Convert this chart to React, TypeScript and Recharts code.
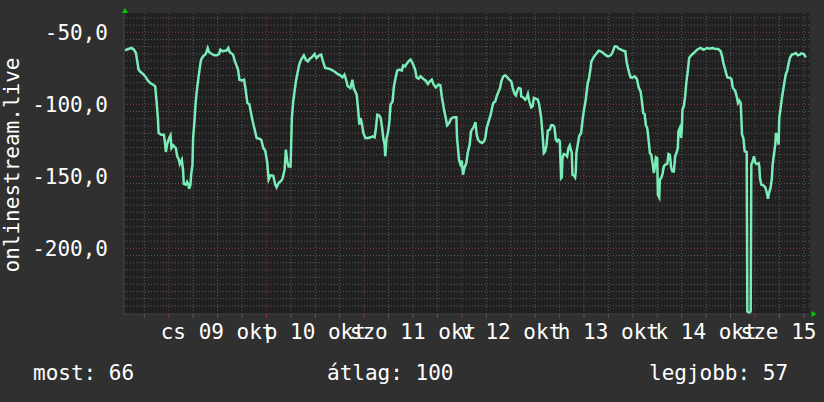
import React from 'react';
import { LineChart, Line, XAxis, YAxis, ReferenceLine, ReferenceArea, ReferenceDot } from 'recharts';

// [hours since start of window, value]
const readings: [number, number][] = [
  [0.24,-62.5],[1.06,-61.6],[1.88,-60.9],[2.45,-62.1],[2.94,-64.4],[3.26,-70.2],[3.59,-75.9],[4.08,-77.6],[4.73,-79.0],[5.39,-81.3],[5.88,-83.6],[6.53,-85.4],[7.18,-86.4],[7.67,-87.5],[8.00,-97.9],[8.33,-109.5],[8.49,-119.9],[9.14,-121.1],[9.80,-121.1],[10.12,-128.0],[10.29,-133.1],[10.61,-127.6],[11.10,-123.4],[11.43,-121.6],[11.67,-130.4],[12.08,-128.5],[12.73,-130.4],[13.06,-136.1],[13.39,-137.8],[13.71,-141.5],[14.20,-138.5],[14.53,-146.6],[14.69,-155.3],[15.18,-155.8],[15.51,-153.9],[15.84,-155.8],[16.00,-158.6],[16.33,-155.8],[16.49,-148.9],[16.82,-141.9],[16.98,-123.4],[17.31,-111.8],[17.63,-97.9],[17.96,-88.7],[18.29,-81.7],[18.61,-74.8],[18.94,-69.0],[19.43,-66.7],[20.08,-65.1],[20.57,-60.9],[20.90,-63.7],[21.55,-65.1],[22.20,-66.0],[22.86,-66.0],[23.35,-65.1],[23.67,-62.1],[24.16,-63.2],[24.65,-62.8],[25.14,-62.8],[25.63,-60.9],[25.96,-63.7],[26.78,-65.5],[27.26,-70.2],
  [28.02,-75.9],[28.34,-82.9],[29.00,-83.4],[29.49,-82.9],[29.82,-88.7],[30.31,-99.1],[30.80,-99.8],[31.12,-104.9],[31.61,-111.8],[32.10,-117.6],[32.59,-123.4],[33.24,-123.9],[33.73,-124.6],[34.22,-130.4],[34.71,-132.2],[35.20,-140.8],[35.53,-152.3],[36.02,-149.3],[36.67,-149.6],[37.16,-155.8],[37.49,-157.7],[37.98,-154.7],[38.63,-153.0],[38.96,-151.6],[39.45,-145.4],[39.77,-131.5],[40.10,-139.6],[40.43,-143.1],[40.92,-143.1],[41.24,-109.5],[41.57,-97.9],[41.90,-91.0],[42.22,-84.1],[42.71,-77.1],[43.04,-72.5],[43.53,-69.0],[44.18,-66.0],[44.67,-69.0],[45.16,-70.2],[45.65,-68.3],[46.14,-67.4],[46.80,-65.1],[47.29,-67.9],[47.94,-66.0],[48.43,-65.5],[48.92,-70.6],[49.41,-74.8],[50.39,-75.3],[51.20,-76.4],[51.86,-77.6],[52.51,-79.0],[53.16,-79.9],[53.65,-81.3],[54.14,-79.4],[54.47,-82.2],[54.96,-87.5],[55.61,-88.7],[56.10,-82.9],[56.43,-88.7],
  [57.16,-93.3],[57.49,-102.6],[57.82,-114.1],[58.14,-109.5],[58.47,-114.1],[58.80,-119.9],[59.29,-123.4],[59.94,-123.4],[60.59,-122.9],[61.08,-122.2],[61.57,-122.9],[61.90,-116.5],[62.22,-107.2],[62.71,-107.7],[63.04,-109.5],[63.37,-115.3],[63.69,-123.4],[64.02,-128.0],[64.18,-136.1],[64.51,-123.4],[64.84,-119.9],[65.16,-113.0],[65.49,-100.3],[65.98,-97.9],[66.31,-87.5],[66.80,-80.6],[67.12,-76.6],[67.61,-75.9],[68.26,-76.6],[68.59,-72.9],[69.08,-73.6],[69.41,-72.0],[70.06,-69.7],[70.39,-69.0],[70.88,-71.3],[71.20,-73.6],[71.53,-75.9],[71.86,-81.3],[72.35,-82.2],[72.84,-80.6],[73.49,-82.2],[74.14,-83.6],[74.63,-85.9],[75.12,-84.1],[75.61,-82.9],[76.10,-86.4],[76.59,-88.2],[77.24,-86.4],[77.73,-86.8],[78.06,-94.5],[78.55,-102.6],[79.04,-109.5],[79.37,-114.6],[79.86,-113.0],[80.35,-110.0],[81.00,-109.0],[81.65,-109.0],[81.82,-123.4],[82.31,-138.5],[82.63,-141.5],[82.96,-139.1],[83.29,-148.9],[83.61,-144.2],[84.10,-140.8],[84.43,-133.8],[84.92,-128.0],[85.24,-118.8],
  [86.00,-115.3],[86.33,-112.3],[86.65,-121.1],[86.98,-124.6],[87.47,-126.2],[87.96,-126.9],[88.45,-125.7],[88.78,-122.9],[89.10,-116.5],[89.59,-111.8],[90.08,-107.2],[90.41,-102.6],[90.73,-99.1],[91.22,-97.9],[91.55,-94.5],[92.04,-91.0],[92.37,-88.7],[92.69,-84.1],[93.18,-80.6],[93.67,-79.9],[94.16,-81.3],[94.65,-82.9],[95.14,-84.1],[95.47,-88.2],[95.96,-92.9],[96.29,-93.8],[96.61,-90.5],[96.94,-88.7],[97.43,-89.1],[97.59,-94.5],[98.08,-95.2],[98.57,-96.8],[98.90,-95.6],[99.22,-92.9],[99.55,-97.9],[100.04,-102.1],[100.37,-101.4],[100.69,-95.6],[101.18,-96.1],[101.67,-96.8],[102.00,-100.3],[102.49,-109.5],[102.82,-121.1],[103.14,-133.8],[103.47,-132.7],[103.80,-128.0],[104.12,-118.3],[104.61,-117.6],[104.94,-114.6],[105.43,-114.6],[105.75,-116.0],[106.08,-124.6],[106.41,-125.7],[106.73,-124.6],[107.06,-125.7],[107.22,-138.5],[107.39,-151.2],[107.55,-150.7],[107.71,-137.3],[108.04,-134.5],[108.53,-135.0],[108.86,-136.1],[109.18,-130.4],[109.51,-128.5],[109.67,-130.4],[110.00,-133.8],[110.16,-148.9],[110.49,-149.3],[110.82,-150.7],[110.98,-146.6],[111.14,-133.8],[111.47,-128.0],[111.80,-122.2],[112.29,-119.9],[112.61,-111.8],[112.94,-104.9],[113.43,-96.8],[113.92,-85.2],
  [114.17,-82.9],[114.50,-77.1],[114.83,-70.2],[115.48,-66.7],[115.97,-65.1],[116.62,-62.8],[117.11,-63.2],[117.76,-64.4],[118.42,-66.0],[118.91,-66.7],[119.56,-66.0],[120.05,-63.7],[120.54,-59.8],[121.03,-59.8],[121.52,-61.4],[122.01,-61.8],[122.66,-62.8],[123.15,-63.2],[123.48,-70.6],[123.81,-74.8],[124.13,-78.3],[124.46,-81.3],[124.95,-81.3],[125.44,-80.6],[125.93,-82.2],[126.09,-83.6],[126.42,-88.2],[126.91,-91.0],[127.23,-97.9],[127.56,-106.0],[127.89,-106.7],[128.21,-114.6],[128.54,-116.5],[128.87,-124.6],[129.19,-133.8],[129.52,-135.0],[129.85,-140.8],[130.17,-147.7],[130.50,-141.9],[130.66,-136.8],[130.99,-137.3],[131.15,-162.8],[131.48,-164.6],[131.64,-152.3],[131.97,-151.2],[132.30,-148.4],[132.62,-143.1],[132.95,-141.9],[133.44,-141.5],[133.76,-134.5],[134.09,-135.0],[134.42,-144.2],[134.74,-146.6],[135.07,-146.6],[135.40,-136.1],[135.72,-133.8],[136.05,-130.4],[136.21,-118.8],[136.54,-116.5],[136.87,-123.4],[137.03,-117.6],[137.19,-103.7],[137.52,-101.4],[137.85,-94.5],[138.17,-84.1],[138.50,-77.1],[138.83,-67.8],[139.32,-66.0],[139.97,-64.4],[140.79,-62.1],[141.60,-60.9],[142.42,-62.1],
  [143.17,-60.9],[143.83,-61.4],[144.48,-60.9],[145.13,-61.4],[145.95,-61.6],[146.60,-63.2],[146.93,-66.7],[147.25,-71.3],[147.58,-74.8],[147.91,-78.3],[148.23,-81.3],[148.89,-81.7],[149.21,-82.2],[149.54,-88.2],[149.87,-89.8],[150.19,-91.0],[150.52,-94.5],[150.85,-99.1],[151.17,-97.5],[151.50,-99.1],[151.66,-109.5],[151.83,-121.1],[152.15,-123.4],[152.48,-132.7],[152.97,-133.1],[153.13,-243.8],[153.62,-245.0],[153.95,-243.8],[154.11,-141.9],[154.44,-139.6],[154.76,-136.1],[155.09,-140.8],[155.42,-141.5],[155.91,-140.8],[156.07,-143.1],[156.23,-151.2],[156.56,-155.8],[157.05,-156.3],[157.54,-157.7],[157.87,-160.9],[158.19,-165.5],[158.52,-160.9],[158.85,-157.7],[159.17,-151.2],[159.34,-141.9],[159.66,-135.0],[159.99,-128.0],[160.15,-119.9],[160.48,-122.2],[160.81,-128.0],[160.97,-109.5],[161.30,-102.6],[161.62,-95.6],[161.95,-89.8],[162.27,-84.1],[162.60,-78.9],[162.93,-76.6],[163.25,-72.0],[163.58,-67.8],[164.07,-65.5],[164.56,-65.1],[165.05,-64.4],[165.54,-66.0],[166.03,-65.5],[166.37,-64.6],[167.01,-65.1],[167.50,-67.4],
];

const dayLabels = ['cs 09 okt', 'p 10 okt', 'szo 11 okt', 'v 12 okt', 'h 13 okt', 'k 14 okt', 'sze 15 okt'];
const labelHours = [23, 47, 71, 95, 119, 143, 167];
const dayStartHours = [11, 35, 59, 83, 107, 131, 155];
const yTicks = [-200, -150, -100, -50];
const seriesName = 'onlinestream.live';
const summaryTexts = ['most: 66', 'átlag: 100', 'legjobb: 57'];

const X_DOMAIN: [number, number] = [0, 168.4];
const Y_DOMAIN: [number, number] = [-245.6, -36.6];

const FONT = '"DejaVu Sans Mono", monospace';
const BG = '#303030';
const PLOT_BG = '#212121';
const MINOR = '#5a5a5a';
const MAJOR = '#803636';
const LINE = '#7aecb8';
const ARROW = '#00cc00';

const data = readings.map(([h, v]) => ({ h, v }));

const gridHours: number[] = [];
for (let h = 5; h < X_DOMAIN[1]; h += 6) gridHours.push(h);
const minorHours = gridHours.filter((h) => !dayStartHours.includes(h));
const minorValues: number[] = [];
for (let v = -40; v >= -240; v -= 5) if (v % 50 !== 0) minorValues.push(v);

const XTick = (props: any) => {
  const { x, y, payload } = props;
  const h = payload.value;
  const major = dayStartHours.includes(h);
  const li = labelHours.indexOf(h);
  return (
    <g>
      <line x1={x} x2={x} y1={y} y2={y + 4} stroke={major ? MAJOR : MINOR} />
      {li >= 0 && (
        <text x={x} y={y + 25} textAnchor="middle" fill="#ffffff" fontSize={21} fontFamily={FONT}>
          {dayLabels[li]}
        </text>
      )}
    </g>
  );
};

const upArrow = (p: any) => (
  <path d={`M${p.cx - 2},${p.cy} L${p.cx + 4},${p.cy} L${p.cx + 1},${p.cy - 5} Z`} fill={ARROW} />
);
const rightArrow = (p: any) => (
  <path d={`M${p.cx + 2},${p.cy - 3} L${p.cx + 2},${p.cy + 3} L${p.cx + 7},${p.cy} Z`} fill={ARROW} />
);

export default function App() {
  return (
    <div style={{ position: 'absolute', left: 0, top: 0, width: 824, height: 402, background: BG, overflow: 'hidden' }}>
      <LineChart width={824} height={402} data={data} margin={{ top: 13, right: 14.5, bottom: 58, left: 0 }}>
        <XAxis
          type="number"
          dataKey="h"
          domain={X_DOMAIN}
          ticks={gridHours}
          interval={0}
          tick={<XTick />}
          tickSize={0}
          tickMargin={0}
          tickLine={false}
          axisLine={{ stroke: '#454545' }}
          height={30}
          allowDataOverflow
        />
        <YAxis
          type="number"
          domain={Y_DOMAIN}
          ticks={yTicks}
          interval={0}
          width={124}
          tickSize={0}
          tickMargin={16}
          tickLine={false}
          axisLine={{ stroke: '#454545' }}
          tick={{ fill: '#ffffff', fontSize: 21, fontFamily: FONT }}
          tickFormatter={(v: number) => v.toFixed(1).replace('.', ',')}
          allowDataOverflow
        />
        <ReferenceArea x1={X_DOMAIN[0]} x2={X_DOMAIN[1]} y1={Y_DOMAIN[0]} y2={Y_DOMAIN[1]} fill={PLOT_BG} fillOpacity={1} stroke="none" />
        {minorValues.map((v) => (
          <ReferenceLine key={'hy' + v} y={v} stroke={MINOR} strokeDasharray="1 2" />
        ))}
        {minorHours.map((h) => (
          <ReferenceLine key={'vx' + h} x={h} stroke={MINOR} strokeDasharray="1 2" />
        ))}
        {yTicks.map((v) => (
          <ReferenceLine key={'my' + v} y={v} stroke={MAJOR} strokeDasharray="1 2" />
        ))}
        {dayStartHours.map((h) => (
          <ReferenceLine key={'mx' + h} x={h} stroke={MAJOR} strokeDasharray="1 2" />
        ))}
        <Line
          type="linear"
          dataKey="v"
          stroke={LINE}
          strokeWidth={2.5}
          dot={false}
          isAnimationActive={false}
        />
        <ReferenceDot x={X_DOMAIN[0]} y={Y_DOMAIN[1]} ifOverflow="visible" shape={upArrow} />
        <ReferenceDot x={X_DOMAIN[1]} y={Y_DOMAIN[0]} ifOverflow="visible" shape={rightArrow} />
      </LineChart>
      <svg width={824} height={402} style={{ position: 'absolute', left: 0, top: 0, pointerEvents: 'none' }}>
        <text x={19} y={165} transform="rotate(-90 19 165)" textAnchor="middle" fill="#ffffff" fontSize={21} fontFamily={FONT}>
          {seriesName}
        </text>
        <text x={33} y={380} fill="#ffffff" fontSize={21} fontFamily={FONT}>{summaryTexts[0]}</text>
        <text x={327} y={380} fill="#ffffff" fontSize={21} fontFamily={FONT}>{summaryTexts[1]}</text>
        <text x={649} y={380} fill="#ffffff" fontSize={21} fontFamily={FONT}>{summaryTexts[2]}</text>
      </svg>
    </div>
  );
}
